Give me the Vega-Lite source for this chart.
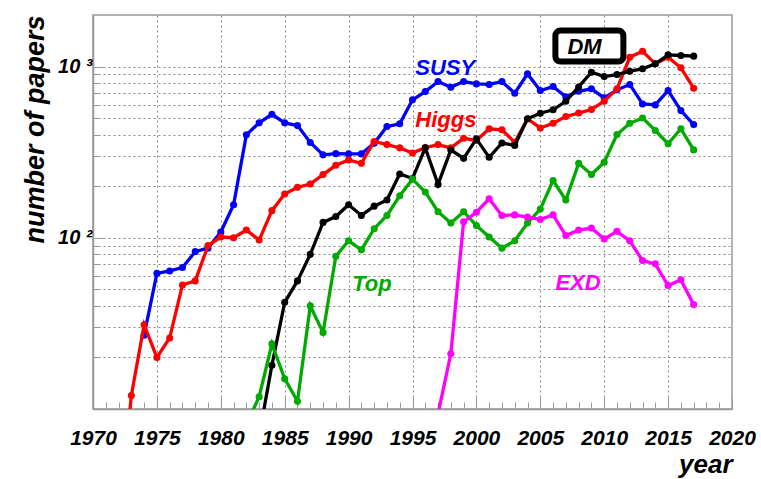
{
  "$schema": "https://vega.github.io/schema/vega-lite/v6.json",
  "width": 639,
  "height": 394,
  "autosize": {"type": "none"},
  "padding": {"left": 93, "top": 15, "right": 29, "bottom": 70},
  "background": "white",
  "config": {
    "view": {"stroke": "#999999", "strokeWidth": 1.5},
    "font": "Liberation Sans"
  },
  "datasets": {
    "series": [
      {"s": "SUSY", "year": 1974, "n": 27}, {"s": "SUSY", "year": 1975, "n": 62}, {"s": "SUSY", "year": 1976, "n": 64}, {"s": "SUSY", "year": 1977, "n": 67}, {"s": "SUSY", "year": 1978, "n": 83}, {"s": "SUSY", "year": 1979, "n": 87}, {"s": "SUSY", "year": 1980, "n": 108}, {"s": "SUSY", "year": 1981, "n": 156}, {"s": "SUSY", "year": 1982, "n": 399}, {"s": "SUSY", "year": 1983, "n": 469}, {"s": "SUSY", "year": 1984, "n": 526}, {"s": "SUSY", "year": 1985, "n": 469}, {"s": "SUSY", "year": 1986, "n": 452}, {"s": "SUSY", "year": 1987, "n": 360}, {"s": "SUSY", "year": 1988, "n": 305}, {"s": "SUSY", "year": 1989, "n": 310}, {"s": "SUSY", "year": 1990, "n": 309}, {"s": "SUSY", "year": 1991, "n": 309}, {"s": "SUSY", "year": 1992, "n": 356}, {"s": "SUSY", "year": 1993, "n": 446}, {"s": "SUSY", "year": 1994, "n": 463}, {"s": "SUSY", "year": 1995, "n": 639}, {"s": "SUSY", "year": 1996, "n": 714}, {"s": "SUSY", "year": 1997, "n": 817}, {"s": "SUSY", "year": 1998, "n": 757}, {"s": "SUSY", "year": 1999, "n": 817}, {"s": "SUSY", "year": 2000, "n": 792}, {"s": "SUSY", "year": 2001, "n": 786}, {"s": "SUSY", "year": 2002, "n": 817}, {"s": "SUSY", "year": 2003, "n": 698}, {"s": "SUSY", "year": 2004, "n": 906}, {"s": "SUSY", "year": 2005, "n": 724}, {"s": "SUSY", "year": 2006, "n": 764}, {"s": "SUSY", "year": 2007, "n": 665}, {"s": "SUSY", "year": 2008, "n": 717}, {"s": "SUSY", "year": 2009, "n": 741}, {"s": "SUSY", "year": 2010, "n": 656}, {"s": "SUSY", "year": 2011, "n": 731}, {"s": "SUSY", "year": 2012, "n": 786}, {"s": "SUSY", "year": 2013, "n": 605}, {"s": "SUSY", "year": 2014, "n": 597}, {"s": "SUSY", "year": 2015, "n": 724}, {"s": "SUSY", "year": 2016, "n": 553}, {"s": "SUSY", "year": 2017, "n": 458},
      {"s": "Higgs", "year": 1972, "n": 2}, {"s": "Higgs", "year": 1973, "n": 12}, {"s": "Higgs", "year": 1974, "n": 31}, {"s": "Higgs", "year": 1975, "n": 20}, {"s": "Higgs", "year": 1976, "n": 26}, {"s": "Higgs", "year": 1977, "n": 53}, {"s": "Higgs", "year": 1978, "n": 56}, {"s": "Higgs", "year": 1979, "n": 90}, {"s": "Higgs", "year": 1980, "n": 101}, {"s": "Higgs", "year": 1981, "n": 100}, {"s": "Higgs", "year": 1982, "n": 111}, {"s": "Higgs", "year": 1983, "n": 97}, {"s": "Higgs", "year": 1984, "n": 144}, {"s": "Higgs", "year": 1985, "n": 180}, {"s": "Higgs", "year": 1986, "n": 197}, {"s": "Higgs", "year": 1987, "n": 206}, {"s": "Higgs", "year": 1988, "n": 234}, {"s": "Higgs", "year": 1989, "n": 265}, {"s": "Higgs", "year": 1990, "n": 285}, {"s": "Higgs", "year": 1991, "n": 272}, {"s": "Higgs", "year": 1992, "n": 365}, {"s": "Higgs", "year": 1993, "n": 350}, {"s": "Higgs", "year": 1994, "n": 335}, {"s": "Higgs", "year": 1995, "n": 313}, {"s": "Higgs", "year": 1996, "n": 336}, {"s": "Higgs", "year": 1997, "n": 350}, {"s": "Higgs", "year": 1998, "n": 335}, {"s": "Higgs", "year": 1999, "n": 381}, {"s": "Higgs", "year": 2000, "n": 370}, {"s": "Higgs", "year": 2001, "n": 433}, {"s": "Higgs", "year": 2002, "n": 427}, {"s": "Higgs", "year": 2003, "n": 361}, {"s": "Higgs", "year": 2004, "n": 495}, {"s": "Higgs", "year": 2005, "n": 438}, {"s": "Higgs", "year": 2006, "n": 466}, {"s": "Higgs", "year": 2007, "n": 511}, {"s": "Higgs", "year": 2008, "n": 535}, {"s": "Higgs", "year": 2009, "n": 561}, {"s": "Higgs", "year": 2010, "n": 627}, {"s": "Higgs", "year": 2011, "n": 741}, {"s": "Higgs", "year": 2012, "n": 1133}, {"s": "Higgs", "year": 2013, "n": 1228}, {"s": "Higgs", "year": 2014, "n": 1037}, {"s": "Higgs", "year": 2015, "n": 1133}, {"s": "Higgs", "year": 2016, "n": 983}, {"s": "Higgs", "year": 2017, "n": 747},
      {"s": "DM", "year": 1983, "n": 7}, {"s": "DM", "year": 1984, "n": 18}, {"s": "DM", "year": 1985, "n": 42}, {"s": "DM", "year": 1986, "n": 56}, {"s": "DM", "year": 1987, "n": 80}, {"s": "DM", "year": 1988, "n": 123}, {"s": "DM", "year": 1989, "n": 133}, {"s": "DM", "year": 1990, "n": 156}, {"s": "DM", "year": 1991, "n": 135}, {"s": "DM", "year": 1992, "n": 153}, {"s": "DM", "year": 1993, "n": 166}, {"s": "DM", "year": 1994, "n": 236}, {"s": "DM", "year": 1995, "n": 222}, {"s": "DM", "year": 1996, "n": 335}, {"s": "DM", "year": 1997, "n": 205}, {"s": "DM", "year": 1998, "n": 326}, {"s": "DM", "year": 1999, "n": 291}, {"s": "DM", "year": 2000, "n": 378}, {"s": "DM", "year": 2001, "n": 295}, {"s": "DM", "year": 2002, "n": 358}, {"s": "DM", "year": 2003, "n": 346}, {"s": "DM", "year": 2004, "n": 495}, {"s": "DM", "year": 2005, "n": 534}, {"s": "DM", "year": 2006, "n": 559}, {"s": "DM", "year": 2007, "n": 627}, {"s": "DM", "year": 2008, "n": 760}, {"s": "DM", "year": 2009, "n": 926}, {"s": "DM", "year": 2010, "n": 874}, {"s": "DM", "year": 2011, "n": 898}, {"s": "DM", "year": 2012, "n": 939}, {"s": "DM", "year": 2013, "n": 970}, {"s": "DM", "year": 2014, "n": 1037}, {"s": "DM", "year": 2015, "n": 1170}, {"s": "DM", "year": 2016, "n": 1160}, {"s": "DM", "year": 2017, "n": 1150},
      {"s": "Top", "year": 1982, "n": 8.1}, {"s": "Top", "year": 1983, "n": 11.8}, {"s": "Top", "year": 1984, "n": 24}, {"s": "Top", "year": 1985, "n": 15}, {"s": "Top", "year": 1986, "n": 11.1}, {"s": "Top", "year": 1987, "n": 40}, {"s": "Top", "year": 1988, "n": 28}, {"s": "Top", "year": 1989, "n": 78}, {"s": "Top", "year": 1990, "n": 96}, {"s": "Top", "year": 1991, "n": 85}, {"s": "Top", "year": 1992, "n": 113}, {"s": "Top", "year": 1993, "n": 135}, {"s": "Top", "year": 1994, "n": 176}, {"s": "Top", "year": 1995, "n": 220}, {"s": "Top", "year": 1996, "n": 185}, {"s": "Top", "year": 1997, "n": 142}, {"s": "Top", "year": 1998, "n": 122}, {"s": "Top", "year": 1999, "n": 142}, {"s": "Top", "year": 2000, "n": 118}, {"s": "Top", "year": 2001, "n": 101}, {"s": "Top", "year": 2002, "n": 87}, {"s": "Top", "year": 2003, "n": 96}, {"s": "Top", "year": 2004, "n": 122}, {"s": "Top", "year": 2005, "n": 147}, {"s": "Top", "year": 2006, "n": 216}, {"s": "Top", "year": 2007, "n": 166}, {"s": "Top", "year": 2008, "n": 272}, {"s": "Top", "year": 2009, "n": 234}, {"s": "Top", "year": 2010, "n": 276}, {"s": "Top", "year": 2011, "n": 401}, {"s": "Top", "year": 2012, "n": 466}, {"s": "Top", "year": 2013, "n": 501}, {"s": "Top", "year": 2014, "n": 423}, {"s": "Top", "year": 2015, "n": 354}, {"s": "Top", "year": 2016, "n": 433}, {"s": "Top", "year": 2017, "n": 326},
      {"s": "EXD", "year": 1997, "n": 9.4}, {"s": "EXD", "year": 1998, "n": 21}, {"s": "EXD", "year": 1999, "n": 124}, {"s": "EXD", "year": 2000, "n": 141}, {"s": "EXD", "year": 2001, "n": 169}, {"s": "EXD", "year": 2002, "n": 135}, {"s": "EXD", "year": 2003, "n": 136}, {"s": "EXD", "year": 2004, "n": 132}, {"s": "EXD", "year": 2005, "n": 128}, {"s": "EXD", "year": 2006, "n": 136}, {"s": "EXD", "year": 2007, "n": 103}, {"s": "EXD", "year": 2008, "n": 111}, {"s": "EXD", "year": 2009, "n": 114}, {"s": "EXD", "year": 2010, "n": 98.5}, {"s": "EXD", "year": 2011, "n": 109}, {"s": "EXD", "year": 2012, "n": 96}, {"s": "EXD", "year": 2013, "n": 73.6}, {"s": "EXD", "year": 2014, "n": 70.4}, {"s": "EXD", "year": 2015, "n": 52.6}, {"s": "EXD", "year": 2016, "n": 56.8}, {"s": "EXD", "year": 2017, "n": 40.7}
    ],
    "labels": [
      {"s": "SUSY", "label": "SUSY", "year": 1995.22, "n": 898},
      {"s": "Higgs", "label": "Higgs", "year": 1995.22, "n": 446},
      {"s": "Top", "label": "Top", "year": 1990.28, "n": 49.2},
      {"s": "EXD", "label": "EXD", "year": 2006.18, "n": 49.8},
      {"s": "DM", "label": "DM", "year": 2007.12, "n": 1191}
    ],
    "box": [
      {"year": 2006.18, "year2": 2011.5, "n": 1069, "n2": 1623}
    ]
  },
  "data": {"name": "series"},
  "encoding": {
    "x": {
      "field": "year",
      "type": "quantitative",
      "scale": {"domain": [1970, 2020], "nice": false, "zero": false},
      "axis": {
        "values": [1970,1971,1972,1973,1974,1975,1976,1977,1978,1979,1980,1981,1982,1983,1984,1985,1986,1987,1988,1989,1990,1991,1992,1993,1994,1995,1996,1997,1998,1999,2000,2001,2002,2003,2004,2005,2006,2007,2008,2009,2010,2011,2012,2013,2014,2015,2016,2017,2018,2019,2020],
        "labelExpr": "datum.value % 5 === 0 ? '' + datum.value : ''",
        "labelFont": "Liberation Sans",
        "labelFontSize": 21,
        "labelFontWeight": "bold",
        "labelFontStyle": "italic",
        "labelColor": "black",
        "labelPadding": 30,
        "labelFlush": false,
        "labelOverlap": false,
        "labelBound": false,
        "grid": true,
        "gridColor": "#888888",
        "gridDash": [2, 3],
        "gridWidth": 1,
        "gridOpacity": {"condition": {"test": "datum.value % 5 === 0 && datum.value > 1970 && datum.value < 2020", "value": 1}, "value": 0},
        "tickSize": {"condition": {"test": "datum.value % 5 === 0", "value": -12}, "value": -7},
        "tickColor": "#999999",
        "tickWidth": 1,
        "domainColor": "#999999",
        "domainWidth": 1.5,
        "title": "year",
        "titleFont": "Liberation Sans",
        "titleFontSize": 26,
        "titleFontWeight": "bold",
        "titleFontStyle": "italic",
        "titleColor": "black",
        "titleAnchor": "end",
        "titlePadding": -2
      }
    },
    "y": {
      "field": "n",
      "type": "quantitative",
      "scale": {"type": "log", "domain": [10, 2000], "nice": false},
      "axis": {
        "values": [20,30,40,50,60,70,80,90,100,200,300,400,500,600,700,800,900,1000],
        "labelExpr": "datum.value == 1000 ? '10 \u00b3' : (datum.value == 100 ? '10 \u00b2' : '')",
        "labelFont": "Liberation Sans",
        "labelFontSize": 20,
        "labelFontWeight": "bold",
        "labelFontStyle": "italic",
        "labelColor": "black",
        "labelPadding": 13,
        "labelFlush": false,
        "labelOverlap": false,
        "labelBound": false,
        "grid": true,
        "gridColor": "#888888",
        "gridDash": [2, 3],
        "gridWidth": 1,
        "tickSize": {"condition": {"test": "datum.value == 100 || datum.value == 1000", "value": -12}, "value": -7},
        "tickColor": "#999999",
        "tickWidth": 1,
        "domainColor": "#999999",
        "domainWidth": 1.5,
        "title": "number of papers",
        "titleFont": "Liberation Sans",
        "titleFontSize": 27,
        "titleFontWeight": "bold",
        "titleFontStyle": "italic",
        "titleColor": "black",
        "titleAnchor": "end",
        "titlePadding": 8
      }
    }
  },
  "layer": [
    {
      "data": {"name": "box"},
      "mark": {"type": "rect", "fill": "white", "stroke": "black", "strokeWidth": 6, "cornerRadius": 5},
      "encoding": {
        "x2": {"field": "year2"},
        "y2": {"field": "n2"}
      }
    },
    {
      "transform": [{"filter": "datum.s == 'SUSY'"}],
      "encoding": {"color": {"field": "s", "type": "nominal", "scale": {"domain": ["SUSY", "Higgs", "DM", "Top", "EXD"], "range": ["#0000ff", "#ff0000", "#000000", "#00aa00", "#ff00ff"]}, "legend": null}},
      "layer": [
        {"mark": {"type": "line", "strokeWidth": 3.3, "clip": true}},
        {"mark": {"type": "point", "filled": true, "size": 50, "opacity": 1, "clip": true}}
      ]
    },
    {
      "transform": [{"filter": "datum.s == 'Higgs'"}],
      "encoding": {"color": {"field": "s", "type": "nominal", "scale": {"domain": ["SUSY", "Higgs", "DM", "Top", "EXD"], "range": ["#0000ff", "#ff0000", "#000000", "#00aa00", "#ff00ff"]}, "legend": null}},
      "layer": [
        {"mark": {"type": "line", "strokeWidth": 3.3, "clip": true}},
        {"mark": {"type": "point", "filled": true, "size": 50, "opacity": 1, "clip": true}}
      ]
    },
    {
      "transform": [{"filter": "datum.s == 'DM'"}],
      "encoding": {"color": {"field": "s", "type": "nominal", "scale": {"domain": ["SUSY", "Higgs", "DM", "Top", "EXD"], "range": ["#0000ff", "#ff0000", "#000000", "#00aa00", "#ff00ff"]}, "legend": null}},
      "layer": [
        {"mark": {"type": "line", "strokeWidth": 3.3, "clip": true}},
        {"mark": {"type": "point", "filled": true, "size": 50, "opacity": 1, "clip": true}}
      ]
    },
    {
      "transform": [{"filter": "datum.s == 'Top'"}],
      "encoding": {"color": {"field": "s", "type": "nominal", "scale": {"domain": ["SUSY", "Higgs", "DM", "Top", "EXD"], "range": ["#0000ff", "#ff0000", "#000000", "#00aa00", "#ff00ff"]}, "legend": null}},
      "layer": [
        {"mark": {"type": "line", "strokeWidth": 3.3, "clip": true}},
        {"mark": {"type": "point", "filled": true, "size": 50, "opacity": 1, "clip": true}}
      ]
    },
    {
      "transform": [{"filter": "datum.s == 'EXD'"}],
      "encoding": {"color": {"field": "s", "type": "nominal", "scale": {"domain": ["SUSY", "Higgs", "DM", "Top", "EXD"], "range": ["#0000ff", "#ff0000", "#000000", "#00aa00", "#ff00ff"]}, "legend": null}},
      "layer": [
        {"mark": {"type": "line", "strokeWidth": 3.3, "clip": true}},
        {"mark": {"type": "point", "filled": true, "size": 50, "opacity": 1, "clip": true}}
      ]
    },
    {
      "data": {"name": "labels"},
      "mark": {"type": "text", "align": "left", "baseline": "alphabetic", "font": "Liberation Sans", "fontSize": 22, "fontWeight": "bold", "fontStyle": "italic"},
      "encoding": {
        "text": {"field": "label"},
        "color": {"field": "s", "type": "nominal", "scale": {"domain": ["SUSY", "Higgs", "DM", "Top", "EXD"], "range": ["#0000ff", "#ff0000", "#000000", "#00aa00", "#ff00ff"]}, "legend": null}
      }
    }
  ]
}
